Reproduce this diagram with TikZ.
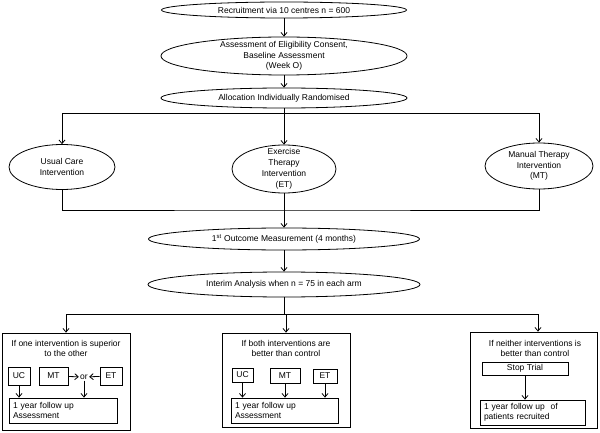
\documentclass[tikz,border=0pt]{standalone}
\usepackage{fontspec}
\setmainfont{Liberation Sans}
\usetikzlibrary{shapes.geometric,arrows.meta}
\begin{document}
\begin{tikzpicture}[x=1pt, y=-1pt, line width=0.8pt,
        >={Straight Barb[length=3.5pt,width=6pt]},
        oval/.style={draw, ellipse, inner sep=0pt},
        txt/.style={align=center, inner sep=0pt, font=\fontsize{8.5}{10.5}\selectfont},
        panel/.style={draw, rectangle, inner sep=0pt},
        tag/.style={draw, rectangle, inner sep=0pt, font=\fontsize{8.5}{10.5}\selectfont},
        followup/.style={draw, rectangle, inner xsep=4pt, inner ysep=0pt, align=left,
            font=\fontsize{8.5}{10.5}\selectfont}]
    \useasboundingbox (0,0) rectangle (600,433);
    % main column
    \node[oval, minimum width=245pt, minimum height=16pt] (recruit) at (284,10) {};
    \node[txt] at (recruit) {Recruitment via 10 centres n = 600};
    \node[oval, minimum width=246pt, minimum height=38pt] (assess) at (284,56) {};
    \node[txt] at (assess) {Assessment of Eligibility Consent,\\Baseline Assessment\\(Week O)};
    \node[oval, minimum width=246pt, minimum height=20pt] (alloc) at (284,98) {};
    \node[txt] at (alloc) {Allocation Individually Randomised};
    % the three arms
    \node[oval, minimum width=106pt, minimum height=45pt] (uc) at (62,167) {};
    \node[txt] at (uc) {Usual Care\\Intervention};
    \node[oval, minimum width=104pt, minimum height=48pt] (et) at (284,169) {};
    \node[txt, font=\fontsize{8.5}{11}\selectfont] at (et) {Exercise\\Therapy\\Intervention\\(ET)};
    \node[oval, minimum width=108pt, minimum height=46pt] (mt) at (539,166) {};
    \node[txt] at (mt) {Manual Therapy\\Intervention\\(MT)};
    \node[oval, minimum width=271pt, minimum height=22pt] (outcome) at (284,239) {};
    \node[txt] at (outcome) {1\textsuperscript{st} Outcome Measurement (4 months)};
    \node[oval, minimum width=272pt, minimum height=25pt] (interim) at (284,284.5) {};
    \node[txt] at (interim) {Interim Analysis when n = 75 in each arm};
    \coordinate (fork1) at (284,113);
    \coordinate (join1) at (284,210);
    \coordinate (fork2) at (284,314);
    % left panel
    \node[panel, minimum width=128pt, minimum height=97pt] (lpanel) at (66,381.5) {};
    \node[txt] at (66,348.5) {If one intervention is superior\\to the other};
    \node[tag, minimum width=22pt, minimum height=18pt] (luc) at (19,376) {UC};
    \node[tag, minimum width=29pt, minimum height=18pt] (lmt) at (53.5,376) {MT};
    \node[txt, inner sep=1pt] (lor) at (84,377) {or};
    \node[tag, minimum width=22pt, minimum height=18pt] (let) at (111,376) {ET};
    \node[followup, text width=100pt, minimum height=25pt] (lfu) at (63,410.5) {1 year follow up\\Assessment};
    % centre panel
    \node[panel, minimum width=128pt, minimum height=94pt] (cpanel) at (286,380) {};
    \node[txt] at (286,348.5) {If both interventions are\\better than control};
    \node[tag, minimum width=21pt, minimum height=14pt] (cuc) at (242.5,375) {UC};
    \node[tag, minimum width=30pt, minimum height=15pt] (cmt) at (285,375.5) {MT};
    \node[tag, minimum width=24pt, minimum height=14pt] (cet) at (325,376) {ET};
    \node[followup, text width=99pt, minimum height=25pt] (cfu) at (284.5,410.5) {1 year follow up\\Assessment};
    % right panel
    \node[panel, minimum width=127pt, minimum height=96pt] (rpanel) at (533.5,380) {};
    \node[txt] at (535,348.5) {If neither interventions is\\better than control};
    \node[tag, minimum width=86pt, minimum height=13pt] (stop) at (525,368.5) {Stop Trial};
    \node[followup, text width=97pt, minimum height=25pt] (rfu) at (532.5,412.5) {1 year follow up\ \ of\\patients recruited};
    % connectors
    \draw[->] (recruit) -- (assess);
    \draw[->] (assess) -- (alloc);
    \draw[->] (alloc) -- (et);
    \draw[->] (fork1) -| (uc);
    \draw[->] (fork1) -| (mt);
    \draw (uc) |- (join1) -| (mt);
    \draw[->] (et) -- (outcome);
    \draw[->] (outcome) -- (interim);
    \draw (interim) -- (fork2);
    \draw[->] (fork2) -| (lpanel);
    \draw[->] (fork2) -| (cpanel);
    \draw[->] (fork2) -| ([xshift=4.5pt]rpanel.north);
    \draw[->] (lmt) -- (lor);
    \draw[->] (let) -- (lor);
    \draw[->] (luc) -- (luc |- lfu.north);
    \draw[->] (lor) -- (lor |- lfu.north);
    \draw[->] (cuc) -- (cuc |- cfu.north);
    \draw[->] (cmt) -- (cmt |- cfu.north);
    \draw[->] (cet) -- (cet |- cfu.north);
    \draw[->] (stop) -- (stop |- rfu.north);
\end{tikzpicture}
\end{document}
